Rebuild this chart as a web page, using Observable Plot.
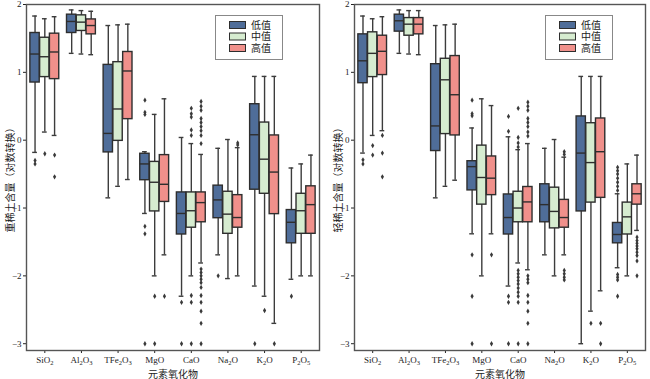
<!DOCTYPE html>
<html><head><meta charset="utf-8">
<script src="https://cdn.jsdelivr.net/npm/d3@7"></script>
<script src="https://cdn.jsdelivr.net/npm/@observablehq/plot@0.6"></script>
<style>
body{margin:0;background:#fff;}
#wrap{display:flex;width:650px;height:379px;overflow:hidden;}
svg{font-family:"Liberation Serif","Noto Sans CJK SC",serif;}
</style></head><body><div id="wrap"></div>
<script>
const categories = ["SiO2","Al2O3","TFe2O3","MgO","CaO","Na2O","K2O","P2O5"];
const groups = ["低值","中值","高值"];
const colors = ["#4f6d99","#d6ecd0","#f0908b"];
const yTicks = [-3,-2,-1,0,1,2];
const xLabel = "元素氧化物";
const heavyLabel = "重稀土含量（对数转换）";
const lightLabel = "轻稀土含量（对数转换）";

// [whiskerLow, q1, median, q3, whiskerHigh] per category
const heavyLow = [
 [-0.18,0.85,1.27,1.58,1.83],[1.28,1.58,1.75,1.85,1.92],[-0.85,-0.18,0.10,1.11,1.69],[-1.08,-0.59,-0.35,-0.20,-0.17],
 [-2.30,-1.39,-1.08,-0.77,0.04],[-1.69,-1.15,-0.88,-0.67,-0.12],[-2.15,-0.73,0.08,0.53,0.94],[-2.05,-1.52,-1.21,-1.03,-0.41]];
const heavyMid = [
 [0.12,0.93,1.23,1.51,1.79],[1.27,1.61,1.74,1.84,1.91],[-0.68,-0.01,0.46,1.15,1.70],[-2.0,-1.05,-0.62,-0.32,0.38],
 [-2.0,-1.29,-1.04,-0.77,-0.05],[-2.04,-1.38,-1.09,-0.76,0.01],[-2.30,-0.79,-0.28,0.26,0.94],[-2.0,-1.38,-1.04,-0.79,-0.35]];
const heavyHigh = [
 [0.07,0.90,1.30,1.57,1.82],[1.26,1.56,1.69,1.78,1.90],[-0.58,0.31,1.02,1.30,1.71],[-1.69,-0.91,-0.65,-0.22,0.61],
 [-1.81,-1.21,-0.92,-0.77,-0.21],[-2.0,-1.29,-1.14,-0.81,-0.11],[-2.70,-1.09,-0.47,0.07,0.94],[-2.0,-1.38,-0.95,-0.68,-0.22]];
const heavyLowOut = [[-0.30,-0.35],[],[],[0.59,0.41,0.38,-1.27,-1.38,-3.0],[-2.39,-3.0],[-2.0],[-3.0],[-2.30]];
const heavyMidOut = [[-0.20],[],[],[-2.30,-3.0],[0.47,0.39,0.34,0.15,0.07,-2.29,-2.39,-3.0],[],[-2.51],[]];
const heavyHighOut = [[-0.22,-0.54],[],[],[-2.30],
 [0.57,0.50,0.44,0.32,0.26,0.20,0.14,0.07,-0.05,-1.90,-1.95,-2.0,-2.05,-2.10,-2.17,-2.29,-2.39,-2.52,-2.70,-3.0],
 [-0.04,-0.07],[-3.0],[]];

const lightLow = [
 [-0.19,0.84,1.17,1.56,1.83],[1.28,1.60,1.76,1.85,1.92],[-0.85,-0.16,0.21,1.12,1.69],[-1.38,-0.74,-0.39,-0.31,0.18],
 [-2.15,-1.39,-1.14,-0.80,0.05],[-1.69,-1.21,-0.95,-0.65,-0.12],[-3.0,-1.05,-0.19,0.35,0.94],[-1.88,-1.52,-1.39,-1.22,-0.79]];
const lightMid = [
 [0.07,0.93,1.28,1.59,1.79],[1.27,1.54,1.71,1.80,1.91],[-0.68,0.09,0.89,1.20,1.70],[-2.0,-0.95,-0.55,-0.08,0.61],
 [-1.81,-1.21,-1.00,-0.76,-0.14],[-2.0,-1.30,-1.05,-0.70,0.01],[-2.52,-0.92,-0.33,0.25,0.94],[-2.0,-1.39,-1.13,-0.92,-0.35]];
const lightHigh = [
 [0.14,0.96,1.31,1.54,1.82],[1.26,1.56,1.71,1.80,1.91],[-0.59,0.07,0.67,1.24,1.71],[-1.38,-0.81,-0.56,-0.24,0.51],
 [-1.91,-1.21,-0.91,-0.69,-0.05],[-1.69,-1.29,-1.14,-0.88,-0.25],[-2.22,-0.85,-0.17,0.32,0.94],[-1.33,-0.95,-0.79,-0.65,-0.22]];
const lightLowOut = [[-0.29,-0.35],[],[],[0.59,0.39,0.36,-1.69,-2.30,-3.0],[0.35,0.13,-2.30,-2.39,-3.0],[],[],
 [-0.40,-0.45,-0.50,-0.56,-0.62,-0.68,-0.74,-1.98,-2.02,-2.06,-2.30]];
const lightMidOut = [[-0.08,-0.22],[],[],[],
 [0.47,0.04,-0.04,-0.10,-1.92,-1.97,-2.02,-2.07,-2.12,-2.18,-2.24,-2.30,-2.39,-3.0],[],[-2.70],[]];
const lightHighOut = [[0.07,-0.19,-0.54],[],[],[-1.69,-3.0],
 [0.56,0.50,0.44,0.32,0.26,0.20,0.12,0.06,-2.0,-2.05,-2.10,-2.29,-2.39,-2.52,-2.70,-3.0],
 [-0.17,-0.21,-1.92,-1.97,-2.02,-2.06],[-2.70,-3.0],[-1.43,-1.48,-1.52,-1.56,-1.60,-1.65,-1.70,-1.78,-2.0]];

const OFF = 0.8/3, BW = 0.255, CAP = 0.13;
const thinDiamond = {draw(ctx, size){const h=Math.sqrt(size)*0.58, w=h*0.6;ctx.moveTo(0,-h);ctx.lineTo(w,0);ctx.lineTo(0,h);ctx.lineTo(-w,0);ctx.closePath();}};

function panel(stats, outs, ylabel, ml, mr, legendX){
  const boxes = [], pts = [];
  stats.forEach((arr, g) => arr.forEach((s, i) => boxes.push({g, x: i + (g-1)*OFF, lo:s[0], q1:s[1], med:s[2], q3:s[3], hi:s[4]})));
  outs.forEach((arr, g) => arr.forEach((vals, i) => vals.forEach(v => pts.push({x: i + (g-1)*OFF, y: v}))));
  const svg = Plot.plot({
    width: 325, height: 379, marginLeft: ml, marginRight: mr, marginTop: 4, marginBottom: 29,
    style: {fontSize: "9px", fontFamily: '"Liberation Serif","Noto Sans CJK SC",serif', color: "#222", background: "#fff"},
    x: {type: "linear", domain: [-0.5, 7.5]},
    y: {domain: [-3.1, 2.0]},
    marks: [
      Plot.ruleX(boxes, {x: "x", y1: "lo", y2: "hi", stroke: "#3c3c3c", strokeWidth: 1.4}),
      Plot.ruleY(boxes, {y: "lo", x1: d => d.x - CAP/2, x2: d => d.x + CAP/2, stroke: "#3c3c3c", strokeWidth: 1.4}),
      Plot.ruleY(boxes, {y: "hi", x1: d => d.x - CAP/2, x2: d => d.x + CAP/2, stroke: "#3c3c3c", strokeWidth: 1.4}),
      Plot.rect(boxes, {x1: d => d.x - BW/2, x2: d => d.x + BW/2, y1: "q1", y2: "q3", fill: d => colors[d.g], stroke: "#2e2e2e", strokeWidth: 1.4}),
      Plot.ruleY(boxes, {y: "med", x1: d => d.x - BW/2, x2: d => d.x + BW/2, stroke: "#2e2e2e", strokeWidth: 1.4}),
      Plot.dot(pts, {x: "x", y: "y", symbol: thinDiamond, r: 2.6, fill: "#3a3a3a", stroke: "none"}),
      Plot.axisY({ticks: yTicks, tickFormat: "d", tickSize: 3, tickPadding: 2, label: ylabel, labelAnchor: "center", labelArrow: "none", labelOffset: 20}),
      Plot.axisX({ticks: d3.range(categories.length), tickFormat: i => categories[i], tickSize: 3, tickPadding: 3, label: xLabel, labelAnchor: "center", labelArrow: "none", labelOffset: 27}),
      Plot.frame({stroke: "#555", strokeWidth: 1.4})
    ]
  });
  const ns = "http://www.w3.org/2000/svg";
  d3.select(svg).selectAll('g[aria-label="x-axis tick label"] text').each(function(){
    const t = this.textContent; this.textContent = "";
    let sub = false;
    for (const part of t.match(/\d+|\D+/g)) {
      const ts = document.createElementNS(ns, "tspan");
      ts.textContent = part;
      if (/\d/.test(part)) { ts.setAttribute("font-size", "6.5px"); ts.setAttribute("dy", "2"); sub = true; }
      else if (sub) { ts.setAttribute("dy", "-2"); sub = false; }
      this.appendChild(ts);
    }
  });
  d3.select(svg).selectAll('g[aria-label="y-axis label"] text, g[aria-label="x-axis label"] text').attr("font-size", "10px");
  // legend
  const lg = d3.select(svg).append("g").attr("text-anchor", "start");
  lg.append("rect").attr("x", legendX + 0.5).attr("y", 15.5).attr("width", 67).attr("height", 44).attr("fill", "#fff").attr("stroke", "#888").attr("stroke-width", 1);
  groups.forEach((g, k) => {
    const cy = 25 + k * 11.5;
    lg.append("rect").attr("x", legendX + 14.5).attr("y", cy - 3.5).attr("width", 16).attr("height", 7).attr("fill", colors[k]).attr("stroke", "#2e2e2e").attr("stroke-width", 1);
    lg.append("text").attr("x", legendX + 36).attr("y", cy).attr("dy", "0.35em").attr("font-size", "10px").attr("fill", "#222").attr("text-anchor", "start").text(g);
  });
  return svg;
}

const wrap = document.getElementById("wrap");
wrap.appendChild(panel([heavyLow, heavyMid, heavyHigh], [heavyLowOut, heavyMidOut, heavyHighOut], heavyLabel, 26, 6, 215));
wrap.appendChild(panel([lightLow, lightMid, lightHigh], [lightLowOut, lightMidOut, lightHighOut], lightLabel, 29, 5, 220));
</script></body></html>
